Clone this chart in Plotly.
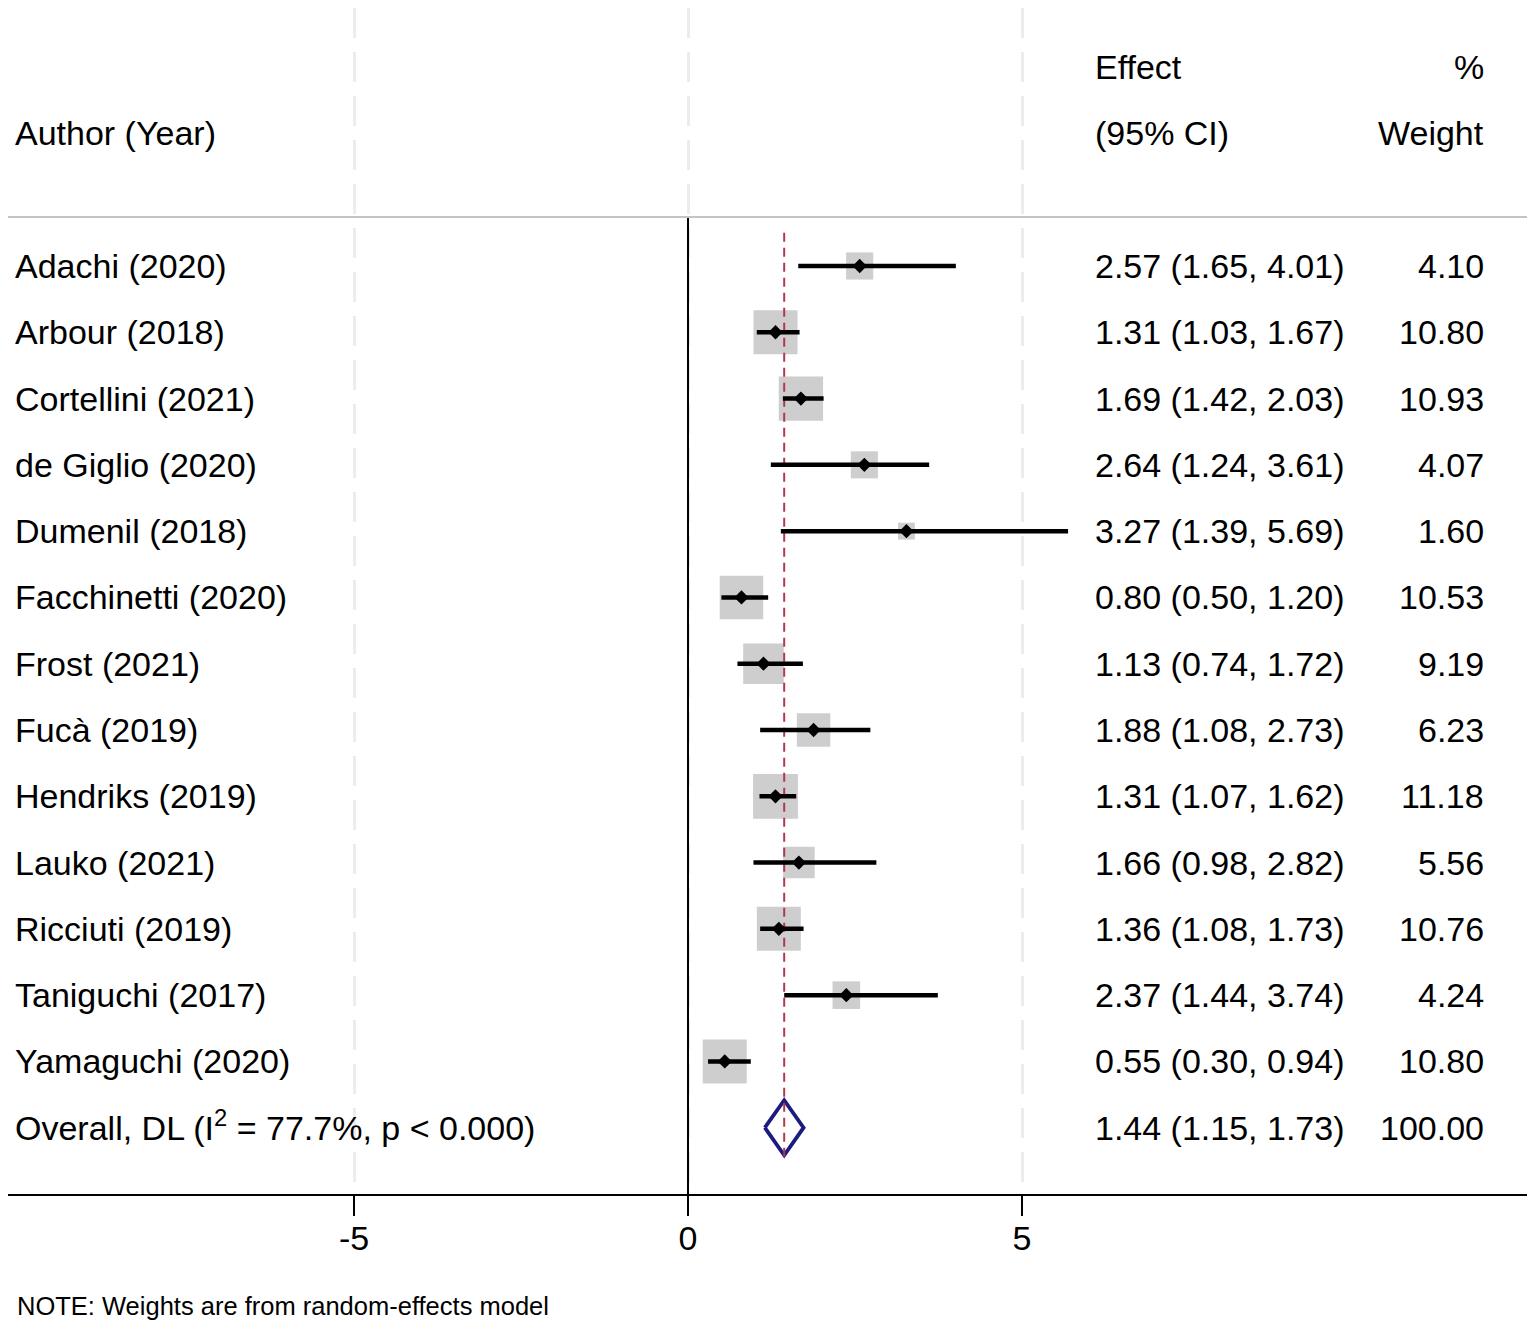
import plotly.graph_objects as go
import numpy as np

# ---------------- data ----------------
studies = ["Adachi (2020)", "Arbour (2018)", "Cortellini (2021)", "de Giglio (2020)",
           "Dumenil (2018)", "Facchinetti (2020)", "Frost (2021)", "Fucà (2019)",
           "Hendriks (2019)", "Lauko (2021)", "Ricciuti (2019)", "Taniguchi (2017)",
           "Yamaguchi (2020)"]
effect = [2.57, 1.31, 1.69, 2.64, 3.27, 0.80, 1.13, 1.88, 1.31, 1.66, 1.36, 2.37, 0.55]
ci_low = [1.65, 1.03, 1.42, 1.24, 1.39, 0.50, 0.74, 1.08, 1.07, 0.98, 1.08, 1.44, 0.30]
ci_high = [4.01, 1.67, 2.03, 3.61, 5.69, 1.20, 1.72, 2.73, 1.62, 2.82, 1.73, 3.74, 0.94]
weight = [4.10, 10.80, 10.93, 4.07, 1.60, 10.53, 9.19, 6.23, 11.18, 5.56, 10.76, 4.24, 10.80]

overall_label = "Overall, DL (I<sup>2</sup> = 77.7%, p &lt; 0.000)"
overall_effect = 1.44
overall_low = 1.15
overall_high = 1.73
overall_weight = 100.00

x_ticks = [-5, 0, 5]
x_tick_labels = ["-5", "0", "5"]

header_left = "Author (Year)"
header_effect = ["Effect", "(95% CI)"]
header_weight = ["%", "Weight"]
note_text = "NOTE: Weights are from random-effects model"

# ---------------- layout constants ----------------
FONT = "Liberation Sans, Arial, sans-serif"
FS = 34
LABEL_X = 0.0033
EFFECT_X = 0.7138
WEIGHT_X = 0.9724
SQUARE_K = 13.4
HEADER_LINE_Y = 0.262
Y_BOTTOM = 15
Y_TOP = -2.892
FIG_W, FIG_H = 1527, 1319
PLOT_H = 1186

rows = list(range(1, len(studies) + 1))
overall_row = len(studies) + 1

fig = go.Figure()

# zero (null) line from header rule to axis
fig.add_trace(go.Scatter(x=[0, 0], y=[HEADER_LINE_Y, Y_BOTTOM], mode="lines",
                         line=dict(color="black", width=2), hoverinfo="skip"))

# weight squares
fig.add_trace(go.Scatter(
    x=effect, y=rows, mode="markers",
    marker=dict(symbol="square", size=[SQUARE_K * np.sqrt(w) for w in weight],
                color="#b9b9b9", line=dict(width=0)),
    hoverinfo="skip"))

# overall diamond
h = 0.415
fig.add_trace(go.Scatter(
    x=[overall_low, overall_effect, overall_high, overall_effect, overall_low],
    y=[overall_row, overall_row - h, overall_row, overall_row + h, overall_row],
    mode="lines", line=dict(color="#1c1c80", width=3.8), hoverinfo="skip"))

# overall effect dashed line
fig.add_trace(go.Scatter(
    x=[overall_effect, overall_effect], y=[0.5, overall_row + 0.47], mode="lines",
    line=dict(color="#b5384a", width=2, dash="9px,6px"), hoverinfo="skip"))

# CI lines
cx, cy = [], []
for lo, hi, r in zip(ci_low, ci_high, rows):
    cx += [lo, hi, None]
    cy += [r, r, None]
fig.add_trace(go.Scatter(x=cx, y=cy, mode="lines",
                         line=dict(color="black", width=4.5), hoverinfo="skip"))

# point estimates
fig.add_trace(go.Scatter(x=effect, y=rows, mode="markers",
                         marker=dict(symbol="diamond", size=11, color="black"),
                         hoverinfo="skip"))

annotations = []

def add_text(x, y, text, anchor, yshift=0, size=FS):
    annotations.append(dict(x=x, y=y, xref="paper", yref="y", text=text, showarrow=False,
                            xanchor=anchor, yanchor="middle", yshift=yshift,
                            font=dict(family=FONT, size=size, color="black")))

# headers
add_text(LABEL_X, -1, header_left, "left")
add_text(EFFECT_X, -2, header_effect[0], "left")
add_text(EFFECT_X, -1, header_effect[1], "left")
add_text(WEIGHT_X, -2, header_weight[0], "right")
add_text(WEIGHT_X, -1, header_weight[1], "right")

# study rows
for s, e, lo, hi, w, r in zip(studies, effect, ci_low, ci_high, weight, rows):
    add_text(LABEL_X, r, s, "left")
    add_text(EFFECT_X, r, f"{e:.2f} ({lo:.2f}, {hi:.2f})", "left")
    add_text(WEIGHT_X, r, f"{w:.2f}", "right")

# overall row
add_text(LABEL_X, overall_row, overall_label, "left", yshift=2)
add_text(EFFECT_X, overall_row,
         f"{overall_effect:.2f} ({overall_low:.2f}, {overall_high:.2f})", "left")
add_text(WEIGHT_X, overall_row, f"{overall_weight:.2f}", "right")

# note
annotations.append(dict(x=0.0046, y=-(1306 - 1194) / PLOT_H, xref="paper", yref="paper",
                        text=note_text, showarrow=False, xanchor="left", yanchor="middle",
                        font=dict(family=FONT, size=25.5, color="black")))

fig.update_layout(
    width=FIG_W, height=FIG_H,
    margin=dict(l=0, r=7, t=0, b=FIG_H - PLOT_H),
    plot_bgcolor="white", paper_bgcolor="white",
    showlegend=False, hovermode=False,
    font=dict(family=FONT, size=FS, color="black"),
    annotations=annotations,
    shapes=[dict(type="line", xref="paper", yref="y", x0=0, x1=1,
                 y0=HEADER_LINE_Y, y1=HEADER_LINE_Y,
                 line=dict(color="#c4c4c4", width=2), layer="above")],
)

fig.update_xaxes(
    range=[-10.18, 12.575], tickvals=x_ticks, ticktext=x_tick_labels,
    showgrid=True, gridcolor="#ececec", gridwidth=3, griddash="30px,14px",
    zeroline=False, showline=True, linecolor="black", linewidth=2,
    ticks="outside", ticklen=20, tickwidth=2, tickcolor="black",
    ticklabelstandoff=-7,
    tickfont=dict(family=FONT, size=FS, color="black"),
)
fig.update_yaxes(range=[Y_BOTTOM, Y_TOP], visible=False)

fig.write_html("out.html")
